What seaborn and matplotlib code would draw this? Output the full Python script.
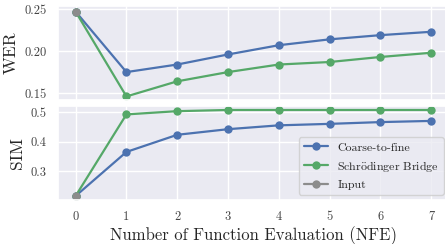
import numpy as np
import pandas as pd
import matplotlib
matplotlib.use("Agg")
import matplotlib.pyplot as plt
import seaborn as sns

nfe = [0, 1, 2, 3, 4, 5, 6, 7]
wer_c2f = [0.247, 0.175, 0.184, 0.196, 0.207, 0.214, 0.219, 0.223]
wer_sb = [0.247, 0.146, 0.164, 0.175, 0.184, 0.187, 0.193, 0.198]
sim_c2f = [0.216, 0.365, 0.423, 0.442, 0.455, 0.460, 0.466, 0.470]
sim_sb = [0.216, 0.492, 0.503, 0.507, 0.507, 0.507, 0.507, 0.507]
wer_input = 0.247
sim_input = 0.216

sns.set_theme(style="darkgrid", palette="deep")
plt.rcParams['font.family'] = ['cmr10', 'DejaVu Serif']
plt.rcParams['mathtext.fontset'] = 'cm'
plt.rcParams['axes.formatter.use_mathtext'] = True
plt.rcParams['axes.unicode_minus'] = False

pal = sns.color_palette("deep")
blue, green, grey = pal[0], pal[2], pal[7]

fig = plt.figure(figsize=(4.45, 2.44), dpi=100)
ax1 = fig.add_axes([0.130, 0.590, 0.879, 0.385])
ax2 = fig.add_axes([0.130, 0.180, 0.879, 0.385])

kw = dict(marker='o', markersize=6, linewidth=1.6, markeredgewidth=0)

for ax, c2f, sb, inp in [(ax1, wer_c2f, wer_sb, wer_input), (ax2, sim_c2f, sim_sb, sim_input)]:
    sns.lineplot(x=nfe, y=c2f, ax=ax, color=blue, label='Coarse-to-fine', **kw)
    sns.lineplot(x=nfe, y=sb, ax=ax, color=green, label=r'Schr$\ddot{\mathrm{o}}$dinger Bridge', **kw)
    sns.lineplot(x=[nfe[0]], y=[inp], ax=ax, color=grey, label='Input', **kw)
    ax.set_xlim(-0.35, 7.35)
    ax.set_xticks(nfe)
    ax.tick_params(labelsize=9, pad=2, colors='#444444')

ax1.set_ylim(0.1417, 0.2536)
ax1.set_yticks([0.15, 0.20, 0.25])
ax1.set_yticklabels(['0.15', '0.20', '0.25'])
ax1.set_xticklabels([])
ax1.set_ylabel('WER', fontsize=12.5)
ax1.get_legend().remove()

ax2.set_ylim(0.202, 0.520)
ax2.set_yticks([0.3, 0.4, 0.5])
ax2.set_yticklabels(['0.3', '0.4', '0.5'])
ax2.set_xticklabels([str(v) for v in nfe])
ax2.set_ylabel('SIM', fontsize=12.5)
ax2.set_xlabel('Number of Function Evaluation (NFE)', fontsize=12, labelpad=2)
ax2.legend(loc='lower right', fontsize=8.6, framealpha=0.8, borderaxespad=0.45)

fig.savefig('out.png', dpi=100)
